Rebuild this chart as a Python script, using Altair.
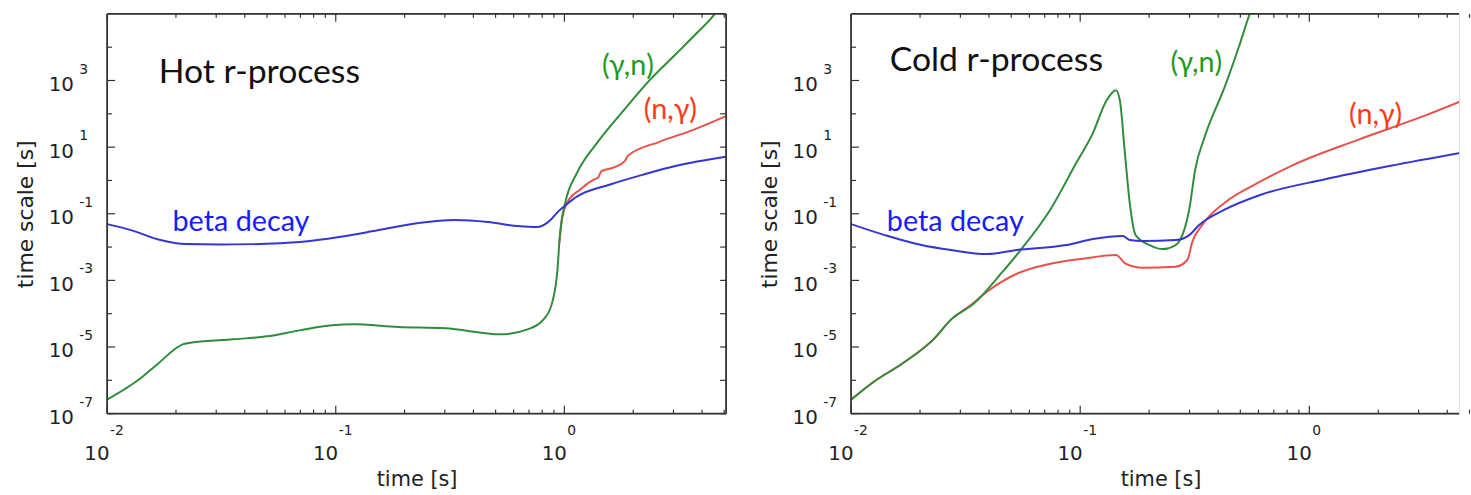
import altair as alt
import pandas as pd
import numpy as np

# ---------------- data (log10 values) ----------------
# Hot r-process (left panel)
hot_beta_logt = [-2.00, -1.896, -1.766, -1.657, -1.505, -1.332, -1.158, -0.985, -0.811, -0.638, -0.477,
                 -0.334, -0.204, -0.117, -0.061, -0.030, 0.004, 0.056, 0.200, 0.347, 0.490, 0.707]
hot_beta_logts = [-1.31, -1.49, -1.79, -1.91, -1.92, -1.91, -1.85, -1.70, -1.49, -1.28, -1.19,
                  -1.25, -1.37, -1.40, -1.19, -0.95, -0.75, -0.48, -0.12, 0.18, 0.44, 0.71]

hot_gn_logt = [-2.00, -1.852, -1.779, -1.670, -1.623, -1.449, -1.302, -1.158, -1.015, -0.928, -0.725,
               -0.521, -0.278, -0.161, -0.087, -0.052, -0.030, -0.022, -0.017, 0.004, 0.056, 0.143,
               0.260, 0.373, 0.490, 0.577, 0.651, 0.690]
hot_gn_logts = [-6.58, -5.93, -5.51, -4.92, -4.86, -4.77, -4.68, -4.50, -4.35, -4.32, -4.40,
                -4.44, -4.62, -4.47, -4.14, -3.63, -2.65, -1.85, -1.46, -0.66, 0.24, 1.13,
                2.11, 3.01, 3.81, 4.41, 4.94, 5.30]

hot_ng_logt = [-0.022, -0.009, 0.013, 0.069, 0.130, 0.148, 0.161, 0.217, 0.265, 0.278, 0.416, 0.564, 0.707]
hot_ng_logts = [-1.85, -1.10, -0.66, -0.27, 0.03, 0.09, 0.27, 0.39, 0.59, 0.74, 1.16, 1.52, 1.93]

# Cold r-process (right panel)
cold_beta_logt = [-2.000, -1.853, -1.693, -1.563, -1.407, -1.277, -1.061, -0.944, -0.814, -0.784,
                  -0.727, -0.584, -0.524, -0.481, -0.368, -0.221, 0.065, 0.355, 0.662]
cold_beta_logts = [-1.31, -1.64, -1.94, -2.09, -2.21, -2.09, -1.94, -1.76, -1.67, -1.79,
                   -1.82, -1.79, -1.64, -1.34, -0.87, -0.45, 0.03, 0.44, 0.83]

cold_ng_logt = [-2.000, -1.896, -1.779, -1.636, -1.563, -1.485, -1.407, -1.277, -1.130, -0.987, -0.844,
                -0.801, -0.727, -0.584, -0.532, -0.511, -0.468, -0.368, -0.221, -0.078, 0.212, 0.498, 0.662]
cold_ng_logts = [-6.58, -6.02, -5.51, -4.74, -4.17, -3.78, -3.34, -2.80, -2.50, -2.35, -2.24,
                 -2.50, -2.62, -2.59, -2.38, -1.85, -1.34, -0.66, -0.06, 0.44, 1.22, 1.93, 2.38]

cold_gn_logt = [-2.000, -1.896, -1.779, -1.636, -1.563, -1.463, -1.346, -1.260, -1.130, -1.017, -0.944,
                -0.887, -0.844, -0.827, -0.805, -0.784, -0.758, -0.697, -0.641, -0.584, -0.554, -0.524,
                -0.498, -0.455, -0.368, -0.307, -0.260, -0.242]
cold_gn_logts = [-6.58, -6.02, -5.51, -4.74, -4.17, -3.69, -2.80, -2.09, -0.87, 0.53, 1.43,
                 2.38, 2.71, 2.41, 0.83, -0.66, -1.64, -1.94, -2.06, -1.94, -1.64, -0.87,
                 0.33, 1.34, 2.83, 4.02, 5.00, 5.30]

# annotations: text, log10 time, log10 timescale
hot_ann_text = ["Hot r-process", "beta decay", "(γ,n)", "(n,γ)"]
hot_ann_logt = [-1.774, -1.714, 0.165, 0.347]
hot_ann_logts = [3.21, -1.25, 3.42, 2.11]
cold_ann_text = ["Cold r-process", "beta decay", "(γ,n)", "(n,γ)"]
cold_ann_logt = [-1.831, -1.844, -0.606, 0.173]
cold_ann_logts = [3.57, -1.25, 3.51, 1.96]

# axis structure
y_label_exps = [-7, -5, -3, -1, 1, 3]
y_major = [1e-7, 1e-5, 1e-3, 1e-1, 1e1, 1e3]
y_minor = [1e-6, 1e-4, 1e-2, 1e0, 1e2, 1e4]
x_label_exps = [-2, -1, 0]
x_major = [0.01, 0.1, 1.0]
x_minor = [0.02, 0.03, 0.04, 0.05, 0.06, 0.07, 0.08, 0.09,
           0.2, 0.3, 0.4, 0.5, 0.6, 0.7, 0.8, 0.9, 2, 3, 4, 5]

# ---------------- styling ----------------
BLUE, GREEN, RED = "#3535d0", "#2f8c3a", "#e5534b"
BLUE_T, GREEN_T, RED_T = "#1a1aff", "#1f9a1f", "#ff3a14"
ANN_COLORS = ["#111111", BLUE_T, GREEN_T, RED_T]
ANN_SIZES = [34, 29, 29, 29]
FONT_AX = "DejaVu Sans"
FONT_TXT = "Lato"
FRAME = "#333333"
H = 403


def series_df(lt, lts):
    return pd.DataFrame({"t": 10 ** np.array(lt), "ts": 10 ** np.array(lts)})


def panel(series, ann, xmax, W, right_ticks, title_x=None):
    xsc = alt.Scale(type="log", domain=[0.01, xmax], nice=False)
    ysc = alt.Scale(type="log", domain=[1e-7, 1e5], nice=False)
    xaxis_kw = dict(values=x_major, labelExpr="'10'", ticks=False, tickSize=0, domain=False, grid=False,
                    labelFont=FONT_AX, labelFontSize=20, labelColor="#222", labelAlign="right",
                    labelFlush=False, labelOffset=2, labelPadding=30, labelBaseline="top",
                    title="time [s]", titleFont=FONT_AX, titleFontSize=21, titleFontWeight="normal",
                    titleColor="#222", titlePadding=5)
    if title_x is not None:
        xaxis_kw["titleX"] = title_x
    xaxis = alt.Axis(**xaxis_kw)
    yaxis = alt.Axis(values=y_major, labelExpr="'10'", ticks=False, tickSize=0, domain=False, grid=False,
                     labelFont=FONT_AX, labelFontSize=20, labelColor="#222", labelFlush=False,
                     labelPadding=34, labelBaseline="middle", labelOffset=4,
                     title="time scale [s]", titleFont=FONT_AX, titleFontSize=22,
                     titleFontWeight="normal", titleColor="#222", titlePadding=11)

    X = alt.X("t:Q", scale=xsc, axis=xaxis)
    Y = alt.Y("ts:Q", scale=ysc, axis=yaxis)

    layers = []
    for (lt, lts, col) in series:
        layers.append(alt.Chart(series_df(lt, lts))
                      .mark_line(clip=True, strokeWidth=2, color=col, interpolate="monotone")
                      .encode(x=X, y=Y))

    # inward ticks
    def yt(vals, x0, x1):
        return alt.Chart(pd.DataFrame({"ts": vals})).mark_rule(color=FRAME, strokeWidth=1.2).encode(
            y=Y, x=alt.value(x0), x2=alt.value(x1))

    def xt(vals, y0, y1):
        return alt.Chart(pd.DataFrame({"t": vals})).mark_rule(color=FRAME, strokeWidth=1.2).encode(
            x=X, y=alt.value(y0), y2=alt.value(y1))

    layers += [yt(y_major, 0, 8), yt(y_minor, 0, 5)]
    if right_ticks:
        layers += [yt(y_major, W - 6, W), yt(y_minor, W - 6, W)]
    layers += [xt(x_major, H, H - 8), xt(x_minor, H, H - 4), xt(x_major, 0, 8), xt(x_minor, 0, 4)]

    # frame
    dummy = pd.DataFrame({"a": [0]})
    fr = alt.Chart(dummy).mark_rule(color=FRAME, strokeWidth=1.8)
    layers += [fr.encode(x=alt.value(0), x2=alt.value(W), y=alt.value(0)),
               fr.encode(x=alt.value(0), x2=alt.value(W), y=alt.value(H)),
               fr.encode(x=alt.value(0), y=alt.value(0), y2=alt.value(H))]
    if right_ticks:
        layers.append(fr.encode(x=alt.value(W), y=alt.value(0), y2=alt.value(H)))

    # exponents of tick labels
    ye = pd.DataFrame({"ts": [10.0 ** e for e in y_label_exps], "e": [str(e) for e in y_label_exps]})
    layers.append(alt.Chart(ye).mark_text(align="left", baseline="middle", font=FONT_AX, fontSize=14,
                                          color="#222", dy=-11).encode(y=Y, x=alt.value(-28), text="e:N"))
    xe = pd.DataFrame({"t": [10.0 ** e for e in x_label_exps], "e": [str(e) for e in x_label_exps]})
    layers.append(alt.Chart(xe).mark_text(align="left", baseline="middle", font=FONT_AX, fontSize=14,
                                          color="#222", dx=3).encode(x=X, y=alt.value(H + 18), text="e:N"))

    # annotations
    txt, a_t, a_ts = ann
    adf = pd.DataFrame({"t": 10 ** np.array(a_t), "ts": 10 ** np.array(a_ts), "label": txt,
                        "col": ANN_COLORS, "fs": ANN_SIZES})
    layers.append(alt.Chart(adf).mark_text(align="left", baseline="middle", font=FONT_TXT).encode(
        x=X, y=Y, text="label:N", color=alt.Color("col:N", scale=None), size=alt.Size("fs:Q", scale=None)))

    return alt.layer(*layers).properties(width=W, height=H)


WL, WR = 624, 613
left = panel([(hot_ng_logt, hot_ng_logts, RED), (hot_gn_logt, hot_gn_logts, GREEN),
              (hot_beta_logt, hot_beta_logts, BLUE)],
             (hot_ann_text, hot_ann_logt, hot_ann_logts), 10 ** (-2 + WL / 230.5), WL, True)
right = panel([(cold_ng_logt, cold_ng_logts, RED), (cold_gn_logt, cold_gn_logts, GREEN),
               (cold_beta_logt, cold_beta_logts, BLUE)],
              (cold_ann_text, cold_ann_logt, cold_ann_logts), 10 ** (-2 + WR / 231.0), WR, False,
              title_x=312)

chart = alt.hconcat(left, right, spacing=126, bounds="flush").properties(
    padding={"left": 14, "top": 10, "right": 0, "bottom": 0}
).configure_view(stroke="transparent").configure(background="white")

chart.save("out.html", embed_options={"renderer": "svg", "actions": False})
